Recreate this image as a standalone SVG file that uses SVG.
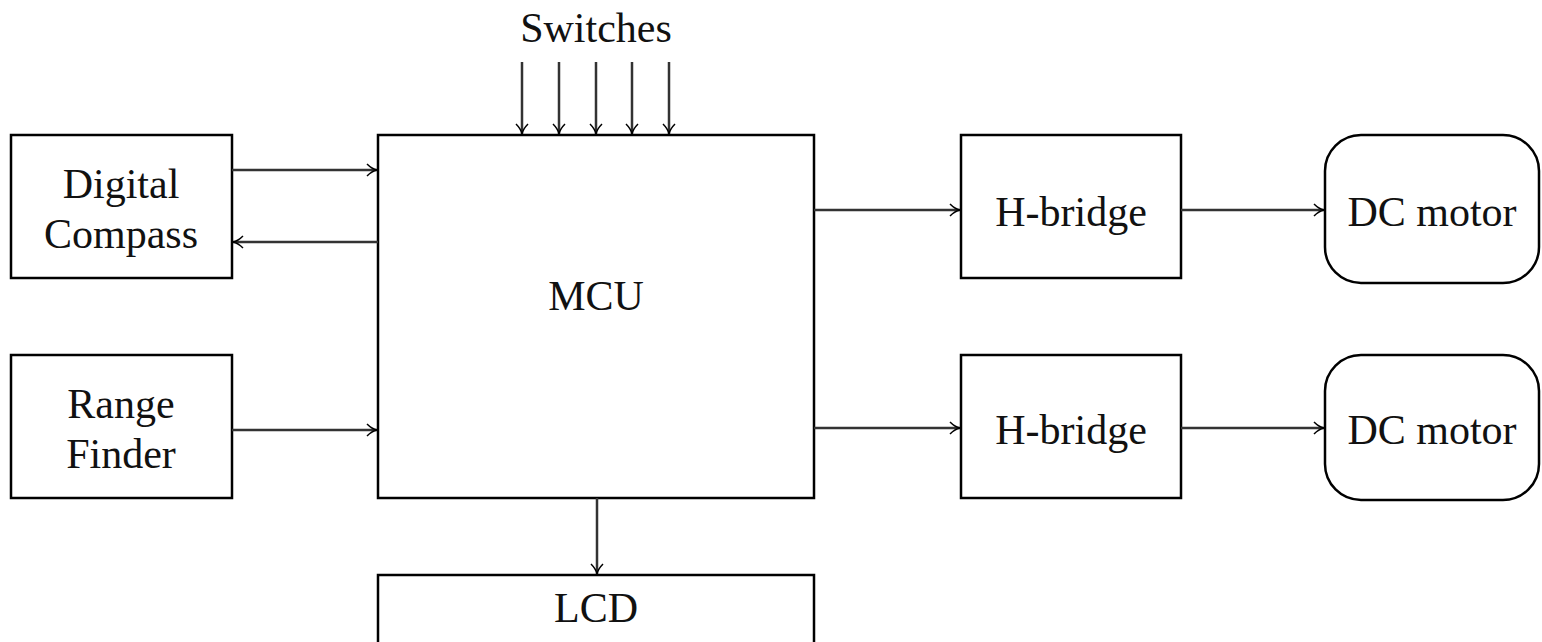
<svg xmlns="http://www.w3.org/2000/svg" width="1542" height="642" viewBox="0 0 1542 642">
<style>
.box{fill:#fff;stroke:#000;stroke-width:2.5}
.t{font-family:"Liberation Serif","DejaVu Serif",serif;font-size:42px;fill:#111;text-anchor:middle}
.c{stroke:#333;stroke-width:2.5;fill:none;marker-end:url(#ah)}
</style>
<defs>
<marker id="ah" viewBox="0 0 12 14" refX="11" refY="7" markerWidth="12" markerHeight="14" markerUnits="userSpaceOnUse" orient="auto">
<path d="M1,1 Q6,6 11,7 Q6,8 1,13" fill="none" stroke="#000" stroke-width="1.5"/>
</marker>
</defs>
<rect width="1542" height="642" fill="#fff"/>
<g id="compass"><rect class="box" x="11" y="135" width="221" height="143"/><text class="t" x="121" y="198">Digital</text><text class="t" x="121" y="248">Compass</text></g>
<g id="range"><rect class="box" x="11" y="355" width="221" height="143"/><text class="t" x="121" y="418">Range</text><text class="t" x="121" y="468">Finder</text></g>
<g id="mcu"><rect class="box" x="378" y="135" width="436" height="363"/><text class="t" x="596" y="310">MCU</text></g>
<g id="lcd"><rect class="box" x="378" y="575" width="436" height="80"/><text class="t" x="596" y="622">LCD</text></g>
<g id="hb1"><rect class="box" x="961" y="135" width="220" height="143"/><text class="t" x="1071" y="226">H-bridge</text></g>
<g id="hb2"><rect class="box" x="961" y="355" width="220" height="143"/><text class="t" x="1071" y="444">H-bridge</text></g>
<g id="dc1"><rect class="box" x="1325" y="135" width="214" height="148" rx="36"/><text class="t" x="1432" y="226">DC motor</text></g>
<g id="dc2"><rect class="box" x="1325" y="355" width="214" height="145" rx="36"/><text class="t" x="1432" y="444">DC motor</text></g>
<g id="switches"><text class="t" x="596" y="42">Switches</text></g>
<g id="connectors">
<path class="c" d="M232,170 H377"/>
<path class="c" d="M378,242 H233"/>
<path class="c" d="M232,430 H377"/>
<path class="c" d="M814,210 H960"/>
<path class="c" d="M1181,210 H1324"/>
<path class="c" d="M814,428 H960"/>
<path class="c" d="M1181,428 H1324"/>
<path class="c" d="M597,498 V574"/>
<path class="c" d="M522,62 V134"/>
<path class="c" d="M559,62 V134"/>
<path class="c" d="M596,62 V134"/>
<path class="c" d="M632,62 V134"/>
<path class="c" d="M669,62 V134"/>
</g>
</svg>
